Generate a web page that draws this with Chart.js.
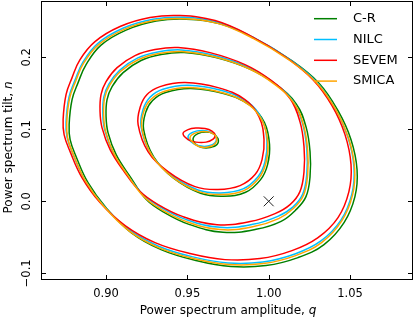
<!DOCTYPE html>
<html>
<head>
<meta charset="utf-8">
<script src="https://cdn.jsdelivr.net/npm/chart.js@4.4.1/dist/chart.umd.min.js"></script>
<style>
  html, body { margin: 0; padding: 0; background: #fff; }
  #wrap { width: 415px; height: 320px; }
</style>
</head>
<body>
<div id="wrap"><canvas id="chart" width="415" height="320"></canvas></div>
<script>
const seriesNames = ['C-R', 'NILC', 'SEVEM', 'SMICA'];
const seriesColors = ['#008000', '#00bfff', '#ff0000', '#ffa500'];
const xTicks = [0.90, 0.95, 1.00, 1.05];
const xTickLabels = ['0.90', '0.95', '1.00', '1.05'];
const yTicks = [-0.1, 0.0, 0.1, 0.2];
const yTickLabels = ['\u22120.1', '0.0', '0.1', '0.2'];
const fiducial = [[1.00, 0.00]];

// [q, n] points of each closed contour, outer level first
const contoursCR = [
  [[0.8773,0.1065],[0.8791,0.1412],[0.8828,0.1648],[0.8877,0.1898],[0.8969,0.2169],[0.9123,0.2378],[0.9307,0.2503],[0.9492,0.2530],[0.9707,0.2461],[0.9922,0.2253],[1.0137,0.1961],[1.0309,0.1641],[1.0426,0.1259],[1.0506,0.0856],[1.0543,0.0440],[1.0530,0.0065],[1.0463,-0.0296],[1.0340,-0.0601],[1.0180,-0.0782],[0.9983,-0.0893],[0.9768,-0.0907],[0.9553,-0.0823],[0.9338,-0.0671],[0.9154,-0.0435],[0.9000,-0.0088],[0.8889,0.0259],[0.8816,0.0620],[0.8779,0.0856]],
  [[0.9000,0.1176],[0.9006,0.1412],[0.9037,0.1593],[0.9105,0.1787],[0.9215,0.1955],[0.9338,0.2038],[0.9480,0.2066],[0.9676,0.1996],[0.9891,0.1830],[1.0045,0.1621],[1.0168,0.1357],[1.0229,0.1037],[1.0254,0.0690],[1.0254,0.0343],[1.0229,0.0065],[1.0168,-0.0116],[1.0076,-0.0278],[0.9922,-0.0389],[0.9719,-0.0431],[0.9510,-0.0320],[0.9357,-0.0153],[0.9246,0.0028],[0.9148,0.0343],[0.9062,0.0648],[0.9012,0.0954]],
  [[0.9231,0.0995],[0.9243,0.1232],[0.9286,0.1399],[0.9366,0.1510],[0.9520,0.1566],[0.9722,0.1496],[0.9888,0.1330],[0.9974,0.1093],[1.0005,0.0787],[0.9993,0.0509],[0.9950,0.0301],[0.9858,0.0125],[0.9722,0.0070],[0.9581,0.0111],[0.9415,0.0320],[0.9292,0.0620]],
  [[0.9535,0.0871],[0.9565,0.0940],[0.9615,0.0961],[0.9658,0.0940],[0.9688,0.0871],[0.9682,0.0788],[0.9639,0.0746],[0.9590,0.0746],[0.9553,0.0788]]
];
const contoursNILC = [
  [[0.8754,0.1100],[0.8772,0.1447],[0.8809,0.1683],[0.8858,0.1933],[0.8950,0.2194],[0.9104,0.2403],[0.9288,0.2528],[0.9473,0.2555],[0.9688,0.2486],[0.9903,0.2278],[1.0118,0.1986],[1.0290,0.1666],[1.0407,0.1294],[1.0487,0.0891],[1.0524,0.0475],[1.0511,0.0100],[1.0444,-0.0261],[1.0321,-0.0550],[1.0161,-0.0731],[0.9964,-0.0842],[0.9749,-0.0856],[0.9534,-0.0772],[0.9319,-0.0620],[0.9135,-0.0384],[0.8981,-0.0053],[0.8870,0.0294],[0.8797,0.0655],[0.8760,0.0891]],
  [[0.8980,0.1211],[0.8986,0.1447],[0.9017,0.1628],[0.9085,0.1822],[0.9195,0.1992],[0.9318,0.2075],[0.9460,0.2103],[0.9656,0.2033],[0.9871,0.1867],[1.0025,0.1658],[1.0148,0.1394],[1.0209,0.1072],[1.0234,0.0725],[1.0234,0.0378],[1.0209,0.0100],[1.0148,-0.0081],[1.0056,-0.0209],[0.9902,-0.0320],[0.9699,-0.0362],[0.9490,-0.0251],[0.9337,-0.0084],[0.9226,0.0097],[0.9128,0.0378],[0.9042,0.0683],[0.8992,0.0989]],
  [[0.9215,0.1035],[0.9227,0.1272],[0.9270,0.1445],[0.9350,0.1556],[0.9504,0.1612],[0.9706,0.1542],[0.9872,0.1376],[0.9958,0.1139],[0.9989,0.0827],[0.9977,0.0549],[0.9934,0.0341],[0.9842,0.0172],[0.9706,0.0117],[0.9565,0.0158],[0.9399,0.0367],[0.9276,0.0660]],
  [[0.9504,0.0899],[0.9535,0.0961],[0.9590,0.0982],[0.9645,0.0961],[0.9676,0.0899],[0.9670,0.0815],[0.9627,0.0767],[0.9565,0.0774],[0.9522,0.0829]]
];
const contoursSEVEM = [
  [[0.8736,0.1135],[0.8754,0.1482],[0.8791,0.1718],[0.8840,0.1968],[0.8932,0.2218],[0.9086,0.2427],[0.9270,0.2552],[0.9455,0.2579],[0.9670,0.2510],[0.9885,0.2302],[1.0100,0.2010],[1.0272,0.1690],[1.0389,0.1329],[1.0469,0.0926],[1.0506,0.0510],[1.0493,0.0135],[1.0426,-0.0226],[1.0303,-0.0504],[1.0143,-0.0685],[0.9946,-0.0796],[0.9731,-0.0810],[0.9516,-0.0726],[0.9301,-0.0574],[0.9117,-0.0338],[0.8963,-0.0018],[0.8852,0.0329],[0.8779,0.0690],[0.8742,0.0926]],
  [[0.8963,0.1246],[0.8969,0.1482],[0.9000,0.1663],[0.9068,0.1857],[0.9178,0.2024],[0.9301,0.2107],[0.9443,0.2135],[0.9639,0.2065],[0.9854,0.1899],[1.0008,0.1690],[1.0131,0.1426],[1.0192,0.1107],[1.0217,0.0760],[1.0217,0.0413],[1.0192,0.0135],[1.0131,-0.0046],[1.0039,-0.0171],[0.9885,-0.0282],[0.9682,-0.0324],[0.9473,-0.0213],[0.9320,-0.0046],[0.9209,0.0135],[0.9111,0.0413],[0.9025,0.0718],[0.8975,0.1024]],
  [[0.9197,0.1065],[0.9209,0.1302],[0.9252,0.1482],[0.9332,0.1593],[0.9486,0.1649],[0.9688,0.1579],[0.9854,0.1413],[0.9940,0.1176],[0.9971,0.0857],[0.9959,0.0579],[0.9916,0.0371],[0.9824,0.0218],[0.9688,0.0163],[0.9547,0.0204],[0.9381,0.0413],[0.9258,0.0690]],
  [[0.9473,0.0940],[0.9504,0.0996],[0.9553,0.1017],[0.9608,0.1010],[0.9651,0.0975],[0.9670,0.0920],[0.9658,0.0864],[0.9615,0.0822],[0.9553,0.0822],[0.9504,0.0857]]
];
const contoursSMICA = [
  [[0.8758,0.1085],[0.8776,0.1432],[0.8813,0.1668],[0.8862,0.1918],[0.8954,0.2176],[0.9108,0.2385],[0.9292,0.2510],[0.9477,0.2537],[0.9692,0.2468],[0.9907,0.2260],[1.0122,0.1968],[1.0294,0.1648],[1.0411,0.1279],[1.0491,0.0876],[1.0528,0.0460],[1.0515,0.0085],[1.0448,-0.0276],[1.0325,-0.0573],[1.0165,-0.0754],[0.9968,-0.0865],[0.9753,-0.0879],[0.9538,-0.0795],[0.9323,-0.0643],[0.9139,-0.0407],[0.8985,-0.0068],[0.8874,0.0279],[0.8801,0.0640],[0.8764,0.0876]],
  [[0.8985,0.1196],[0.8991,0.1432],[0.9022,0.1613],[0.9090,0.1807],[0.9200,0.1969],[0.9323,0.2052],[0.9465,0.2080],[0.9661,0.2010],[0.9876,0.1844],[1.0030,0.1635],[1.0153,0.1371],[1.0214,0.1057],[1.0239,0.0710],[1.0239,0.0363],[1.0214,0.0085],[1.0153,-0.0096],[1.0061,-0.0240],[0.9907,-0.0351],[0.9704,-0.0393],[0.9495,-0.0282],[0.9342,-0.0115],[0.9231,0.0066],[0.9133,0.0363],[0.9047,0.0668],[0.8997,0.0974]],
  [[0.9220,0.1015],[0.9232,0.1252],[0.9275,0.1413],[0.9355,0.1524],[0.9509,0.1580],[0.9711,0.1510],[0.9877,0.1344],[0.9963,0.1107],[0.9994,0.0807],[0.9982,0.0529],[0.9939,0.0321],[0.9847,0.0149],[0.9711,0.0094],[0.9570,0.0135],[0.9404,0.0344],[0.9281,0.0640]],
  [[0.9516,0.0885],[0.9547,0.0947],[0.9602,0.0968],[0.9651,0.0947],[0.9679,0.0885],[0.9670,0.0801],[0.9627,0.0753],[0.9572,0.0760],[0.9535,0.0815]]
];
const allContours = [contoursCR, contoursNILC, contoursSEVEM, contoursSMICA];

const FONT = '"DejaVu Sans", sans-serif';

// wrap a closed contour so every drawn point has neighbours on both sides
function ring(pts) {
  return [pts[pts.length - 1], ...pts, pts[0], pts[1]].map(p => ({ x: p[0], y: p[1] }));
}

let datasets = [];
allContours.forEach((levels, s) => {
  levels.forEach(pts => {
    let data = ring(pts);
    let last = data.length - 1;
    datasets.push({
      label: seriesNames[s],
      data: data,
      showLine: true,
      borderColor: seriesColors[s],
      borderWidth: 1.5,
      pointRadius: 0,
      tension: 0.4,
      fill: false,
      order: 4 - s,
      segment: {
        borderColor: ctx => (ctx.p0DataIndex === 0 || ctx.p1DataIndex === last) ? 'rgba(0,0,0,0)' : undefined
      }
    });
  });
});
datasets.push({
  label: 'fiducial',
  data: fiducial.map(p => ({ x: p[0], y: p[1] })),
  showLine: false,
  pointStyle: 'crossRot',
  pointRadius: 7,
  borderColor: '#222',
  borderWidth: 1,
  order: 0
});

const frame = {
  id: 'frame',
  afterDraw(chart) {
    const { ctx, chartArea: a, scales: { x, y } } = chart;
    ctx.save();
    ctx.strokeStyle = '#000';
    ctx.lineWidth = 1;
    ctx.strokeRect(a.left + 0.5, a.top + 0.5, a.right - a.left - 1, a.bottom - a.top - 1);

    // inward ticks on all four sides
    ctx.beginPath();
    xTicks.forEach(v => {
      let px = Math.round(x.getPixelForValue(v)) + 0.5;
      ctx.moveTo(px, a.bottom); ctx.lineTo(px, a.bottom - 5);
      ctx.moveTo(px, a.top); ctx.lineTo(px, a.top + 5);
    });
    yTicks.forEach(v => {
      let py = Math.round(y.getPixelForValue(v)) + 0.5;
      ctx.moveTo(a.left, py); ctx.lineTo(a.left + 5, py);
      ctx.moveTo(a.right, py); ctx.lineTo(a.right - 5, py);
    });
    ctx.stroke();

    ctx.fillStyle = '#000';
    ctx.font = '11.5px ' + FONT;
    ctx.textAlign = 'center';
    ctx.textBaseline = 'middle';
    xTicks.forEach((v, i) => {
      ctx.fillText(xTickLabels[i], x.getPixelForValue(v), a.bottom + 14);
    });
    yTicks.forEach((v, i) => {
      ctx.save();
      ctx.translate(a.left - 13.5, y.getPixelForValue(v));
      ctx.rotate(-Math.PI / 2);
      ctx.fillText(yTickLabels[i], 0, 0);
      ctx.restore();
    });

    // axis titles with italic symbol
    function title(plain, sym, cx, cy, rot) {
      ctx.save();
      ctx.translate(cx, cy);
      ctx.rotate(rot);
      ctx.textAlign = 'left';
      ctx.font = '12px ' + FONT;
      let w1 = ctx.measureText(plain).width;
      ctx.font = 'italic 12px ' + FONT;
      let w2 = ctx.measureText(sym).width;
      let x0 = -(w1 + w2) / 2;
      ctx.font = '12px ' + FONT;
      ctx.fillText(plain, x0, 0);
      ctx.font = 'italic 12px ' + FONT;
      ctx.fillText(sym, x0 + w1, 0);
      ctx.restore();
    }
    title('Power spectrum amplitude, ', 'q', (a.left + a.right) / 2 + 1, a.bottom + 31, 0);
    title('Power spectrum tilt, ', 'n', 9, (a.top + a.bottom) / 2 + 7, -Math.PI / 2);

    // legend
    ctx.font = '13px ' + FONT;
    ctx.textAlign = 'left';
    seriesNames.forEach((name, i) => {
      let ly = a.top + 17.7 + i * 20.8;
      ctx.strokeStyle = seriesColors[i];
      ctx.lineWidth = 1.5;
      ctx.beginPath();
      ctx.moveTo(314, ly); ctx.lineTo(337, ly);
      ctx.stroke();
      ctx.fillText(name, 353, ly);
    });
    ctx.restore();
  }
};

new Chart(document.getElementById('chart'), {
  type: 'scatter',
  data: { datasets: datasets },
  options: {
    responsive: false,
    devicePixelRatio: 1,
    animation: false,
    layout: { autoPadding: false, padding: { top: 1, right: 2, left: 0, bottom: 0 } },
    plugins: { legend: { display: false }, tooltip: { enabled: false } },
    scales: {
      x: {
        type: 'linear', min: 0.8600, max: 1.0887,
        grid: { display: false }, border: { display: false },
        ticks: { display: false },
        afterFit: s => { s.height = 40; }
      },
      y: {
        type: 'linear', min: -0.1093, max: 0.2782,
        grid: { display: false }, border: { display: false },
        ticks: { display: false },
        afterFit: s => { s.width = 41; }
      }
    }
  },
  plugins: [frame]
});
</script>
</body>
</html>
